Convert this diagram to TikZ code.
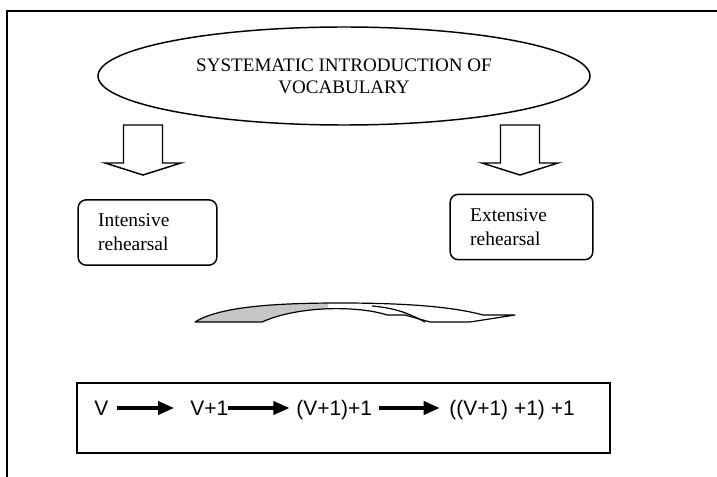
\documentclass[tikz,border=0pt]{standalone}
\usepackage{fontspec}
\setmainfont{Liberation Serif}
\newfontfamily\arialfont{Liberation Sans}
\usetikzlibrary{shapes.geometric,arrows.meta}

\begin{document}
\begin{tikzpicture}[x=0.75pt, y=-0.75pt, every node/.style={inner sep=0pt},
  rehearsal/.style={draw, rounded corners=6pt, line width=1.1pt, align=left,
    inner xsep=15pt, minimum height=49pt, font=\fontsize{14.6}{18}\selectfont},
  seqitem/.style={anchor=west, text height=11.3pt, text depth=0pt,
    font=\arialfont\fontsize{15.75}{18}\selectfont},
  seqarrow/.style={line width=2.3pt, -{Triangle[length=12pt, width=10pt]}},
  blockarrow/.style={line width=1.1pt, line join=miter}]
\useasboundingbox (0,0) rectangle (717,477);

\coordinate (SW) at (7,477);
\coordinate (NW) at (7,11);
\coordinate (NE) at (717,11);
\draw[line width=1.5pt] (SW) -- (NW) -- (NE);

\node[draw, ellipse, line width=1.1pt, minimum width=369pt, minimum height=73.5pt,
  align=center, font=\fontsize{14.3}{16.5}\selectfont] (intro) at (344,76)
  {SYSTEMATIC INTRODUCTION OF\\VOCABULARY};

% block arrows under the ellipse
\foreach \cx in {143,520}
  \draw[blockarrow] ({\cx-19.5},125) -- ({\cx+19.5},125) -- ({\cx+19.5},163)
    -- ({\cx+38},163) -- (\cx,175) -- ({\cx-38},163) -- ({\cx-19.5},163) -- cycle;

\node[rehearsal, text width=74pt] (intensive) at (147.5,232.5) {Intensive\\rehearsal};
\node[rehearsal, text width=77pt] (extensive) at (521.5,227) {Extensive\\rehearsal};

% curved arrow
\begin{scope}
\clip (180,290) rectangle (328,330);
\fill[gray!45] (195,322) .. controls (220,306) and (280,303) .. (340,303)
  -- (387,315) .. controls (360,306) and (300,305) .. (262,322) -- cycle;
\end{scope}
\draw[line width=0.9pt, line join=round] (195,322) .. controls (220,306) and (280,303) .. (340,303)
  .. controls (400,303) and (450,306) .. (483,315) -- (515,315) -- (470,322) -- (430,322)
  -- (405,315) -- (387,315) .. controls (360,306) and (300,305) .. (262,322) -- cycle;
\draw[line width=0.9pt] (372,306) .. controls (395,308) and (408,313) .. (425,322);

\node[draw, line width=1.5pt, minimum width=400pt, minimum height=52.5pt] (seqbox) at (343.5,418) {};

\node[seqitem] (v0) at (94,408) {V};
\node[seqitem] (v1) at (190,408) {V+1};
\node[seqitem] (v2) at (296,408) {(V+1)+1};
\node[seqitem] (v3) at (449,408) {((V+1) +1) +1};

\draw[seqarrow, shorten <=6pt, shorten >=12pt] (v0) -- (v1);
\draw[seqarrow, shorten >=5pt] (v1) -- (v2);
\draw[seqarrow, shorten <=5pt, shorten >=7pt] (v2) -- (v3);

\end{tikzpicture}
\end{document}
